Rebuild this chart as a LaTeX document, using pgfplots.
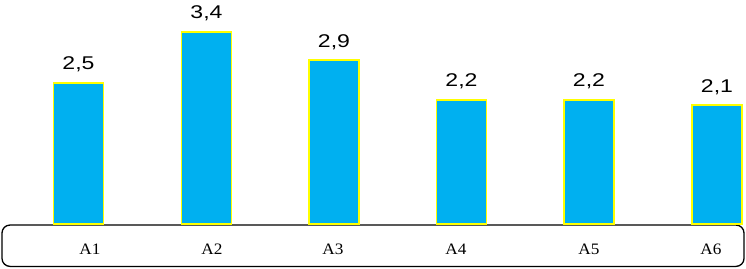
\documentclass[border=0pt]{standalone}
\usepackage{fontspec}
\setmainfont{Liberation Serif}
\newfontfamily\arialfont{Liberation Sans}
\usepackage{pgfplots}
\pgfplotsset{compat=1.18}
\definecolor{barblue}{HTML}{00B0F0}
\definecolor{baryellow}{HTML}{FFFF00}
\begin{document}
\begin{tikzpicture}
\begin{axis}[
  scale only axis,
  width=746bp, height=269bp,
  xmin=0, xmax=746,
  ymin=-0.796, ymax=3.965,
  axis line style={draw=none},
  tick style={draw=none},
  ytick=\empty,
  xtick={90,212,333,456,589,711},
  xticklabels={A1,A2,A3,A4,A5,A6},
  xticklabel style={anchor=base, yshift=18.5bp, xscale=1.08, font=\fontsize{16}{18}\selectfont},
  clip=false,
  ybar, bar width=50, bar shift=0pt,
  nodes near coords,
  /pgf/number format/.cd, fixed, fixed zerofill, precision=1, use comma, assume math mode=true,
  /pgfplots/.cd,
  nodes near coords style={anchor=base, yshift=13bp, xscale=1.25, font=\arialfont\fontsize{18.5}{20}\selectfont, text=black},
]
\coordinate (bl) at (rel axis cs:0,0);
\coordinate (tr) at (rel axis cs:1,1);
\draw[black, line width=1.3bp, rounded corners=8bp] (axis cs:2,-0.018) rectangle (axis cs:744,-0.75);
\addplot[fill=barblue, draw=baryellow, line width=1.8bp] coordinates {
  (78.5,2.5) (206.5,3.4) (334,2.9) (461.5,2.2) (589,2.2) (717,2.1)
};
\end{axis}
\pgfresetboundingbox
\path[use as bounding box] (bl) rectangle (tr);
\end{tikzpicture}
\end{document}
